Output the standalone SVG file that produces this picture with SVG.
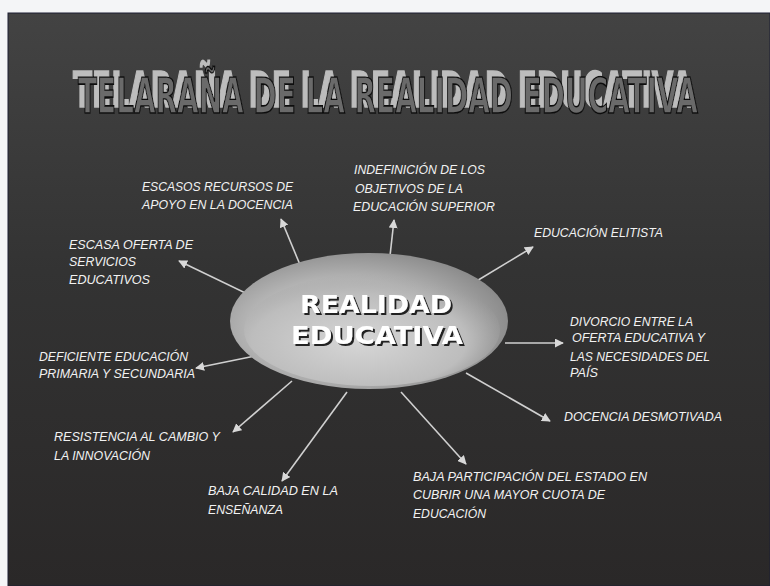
<svg xmlns="http://www.w3.org/2000/svg" width="770" height="586" viewBox="0 0 770 586">
<defs>
<linearGradient id="bg" x1="0" y1="0" x2="0" y2="1">
<stop offset="0" stop-color="#434343"/>
<stop offset="0.45" stop-color="#333333"/>
<stop offset="1" stop-color="#2a2828"/>
</linearGradient>
<radialGradient id="disc" cx="0.42" cy="0.55" r="0.6">
<stop offset="0" stop-color="#cfcfcf"/>
<stop offset="0.6" stop-color="#b4b4b4"/>
<stop offset="1" stop-color="#8a8a8a"/>
</radialGradient>
<radialGradient id="inner" cx="0.45" cy="0.6" r="0.6">
<stop offset="0" stop-color="#d6d6d6"/>
<stop offset="0.7" stop-color="#bdbdbd"/>
<stop offset="1" stop-color="#a5a5a5" stop-opacity="0"/>
</radialGradient>
<filter id="tshadow" filterUnits="userSpaceOnUse" x="40" y="30" width="700" height="110">
<feOffset in="SourceAlpha" dx="-5" dy="-6" result="o"/>
<feFlood flood-color="#bdbdbd"/>
<feComposite in2="o" operator="in" result="s"/>
<feMerge><feMergeNode in="s"/><feMergeNode in="SourceGraphic"/></feMerge>
</filter>
<filter id="cshadow" filterUnits="userSpaceOnUse" x="270" y="270" width="220" height="100">
<feOffset in="SourceAlpha" dx="2" dy="2" result="o"/>
<feFlood flood-color="#222"/>
<feComposite in2="o" operator="in" result="s"/>
<feMerge><feMergeNode in="s"/><feMergeNode in="SourceGraphic"/></feMerge>
</filter>
<marker id="ah" viewBox="0 0 10 10" refX="9" refY="5" markerWidth="9" markerHeight="9" markerUnits="userSpaceOnUse" orient="auto">
<path d="M0,0 L10,5 L0,10 Z" fill="#d8d8d8"/>
</marker>
<style>
.lbl{font-family:"Liberation Sans",Arial,sans-serif;font-style:italic;font-size:12px;fill:#f2f2f2}
.conn line{stroke:#d0d0d0;stroke-width:1.6;marker-end:url(#ah)}
.title{font-family:"DejaVu Sans Condensed","DejaVu Sans",sans-serif;font-weight:bold;font-size:50px}
.core{font-family:"DejaVu Sans",Verdana,sans-serif;font-weight:bold;font-size:24px;fill:#fff}
</style>
</defs>
<rect x="0" y="0" width="770" height="586" fill="#f4f5f7"/>
<rect x="8" y="13" width="762" height="573" fill="url(#bg)" stroke="#1c1f33" stroke-width="1"/>
<g id="title" filter="url(#tshadow)">
<text class="title" x="78" y="113" fill="#6b6b6b" stroke="#111" stroke-width="1.6" textLength="620" lengthAdjust="spacingAndGlyphs">TELARAÑA DE LA REALIDAD EDUCATIVA</text>
</g>
<g class="conn" id="connectors">
<line x1="303" y1="272" x2="281" y2="219"/>
<line x1="260" y1="300" x2="179" y2="261"/>
<line x1="389" y1="265" x2="394" y2="220"/>
<line x1="475" y1="282" x2="533" y2="247"/>
<line x1="505" y1="343" x2="563" y2="343"/>
<line x1="255" y1="356" x2="196" y2="368"/>
<line x1="292" y1="381" x2="233" y2="432"/>
<line x1="347" y1="392" x2="282" y2="481"/>
<line x1="466" y1="373" x2="550" y2="421"/>
<line x1="401" y1="392" x2="466" y2="464"/>
</g>
<g id="center">
<ellipse cx="369" cy="321" rx="139" ry="68" fill="url(#disc)"/>
<ellipse cx="372" cy="330" rx="128" ry="56" fill="url(#inner)"/>
<g filter="url(#cshadow)">
<text class="core" x="300" y="313" textLength="152" lengthAdjust="spacingAndGlyphs">REALIDAD</text>
<text class="core" x="291" y="344" textLength="172" lengthAdjust="spacingAndGlyphs">EDUCATIVA</text>
</g>
</g>
<g id="n1"><text class="lbl" x="142" y="191" textLength="151" lengthAdjust="spacingAndGlyphs">ESCASOS RECURSOS DE</text><text class="lbl" x="142" y="209" textLength="151" lengthAdjust="spacingAndGlyphs">APOYO EN LA DOCENCIA</text></g>
<g id="n2"><text class="lbl" x="69" y="249" textLength="124" lengthAdjust="spacingAndGlyphs">ESCASA OFERTA DE</text><text class="lbl" x="69" y="266" textLength="67" lengthAdjust="spacingAndGlyphs">SERVICIOS</text><text class="lbl" x="69" y="284" textLength="81" lengthAdjust="spacingAndGlyphs">EDUCATIVOS</text></g>
<g id="n3"><text class="lbl" x="354" y="174" textLength="131" lengthAdjust="spacingAndGlyphs">INDEFINICIÓN DE LOS</text><text class="lbl" x="355" y="193" textLength="108" lengthAdjust="spacingAndGlyphs">OBJETIVOS DE LA</text><text class="lbl" x="353" y="211" textLength="142" lengthAdjust="spacingAndGlyphs">EDUCACIÓN SUPERIOR</text></g>
<g id="n4"><text class="lbl" x="534" y="237" textLength="129" lengthAdjust="spacingAndGlyphs">EDUCACIÓN ELITISTA</text></g>
<g id="n5"><text class="lbl" x="570" y="326" textLength="123" lengthAdjust="spacingAndGlyphs">DIVORCIO ENTRE LA</text><text class="lbl" x="572" y="342" textLength="133" lengthAdjust="spacingAndGlyphs">OFERTA EDUCATIVA Y</text><text class="lbl" x="570" y="361" textLength="140" lengthAdjust="spacingAndGlyphs">LAS NECESIDADES DEL</text><text class="lbl" x="570" y="377" textLength="28" lengthAdjust="spacingAndGlyphs">PAÍS</text></g>
<g id="n6"><text class="lbl" x="39" y="361" textLength="149" lengthAdjust="spacingAndGlyphs">DEFICIENTE EDUCACIÓN</text><text class="lbl" x="39" y="378" textLength="156" lengthAdjust="spacingAndGlyphs">PRIMARIA Y SECUNDARIA</text></g>
<g id="n7"><text class="lbl" x="54" y="441" textLength="166" lengthAdjust="spacingAndGlyphs">RESISTENCIA AL CAMBIO Y</text><text class="lbl" x="54" y="460" textLength="96" lengthAdjust="spacingAndGlyphs">LA INNOVACIÓN</text></g>
<g id="n8"><text class="lbl" x="208" y="495" textLength="130" lengthAdjust="spacingAndGlyphs">BAJA CALIDAD EN LA</text><text class="lbl" x="208" y="514" textLength="75" lengthAdjust="spacingAndGlyphs">ENSEÑANZA</text></g>
<g id="n9"><text class="lbl" x="564" y="421" textLength="158" lengthAdjust="spacingAndGlyphs">DOCENCIA DESMOTIVADA</text></g>
<g id="n10"><text class="lbl" x="413" y="481" textLength="234" lengthAdjust="spacingAndGlyphs">BAJA PARTICIPACIÓN DEL ESTADO EN</text><text class="lbl" x="413" y="499" textLength="192" lengthAdjust="spacingAndGlyphs">CUBRIR UNA MAYOR CUOTA DE</text><text class="lbl" x="413" y="518" textLength="73" lengthAdjust="spacingAndGlyphs">EDUCACIÓN</text></g>
</svg>
